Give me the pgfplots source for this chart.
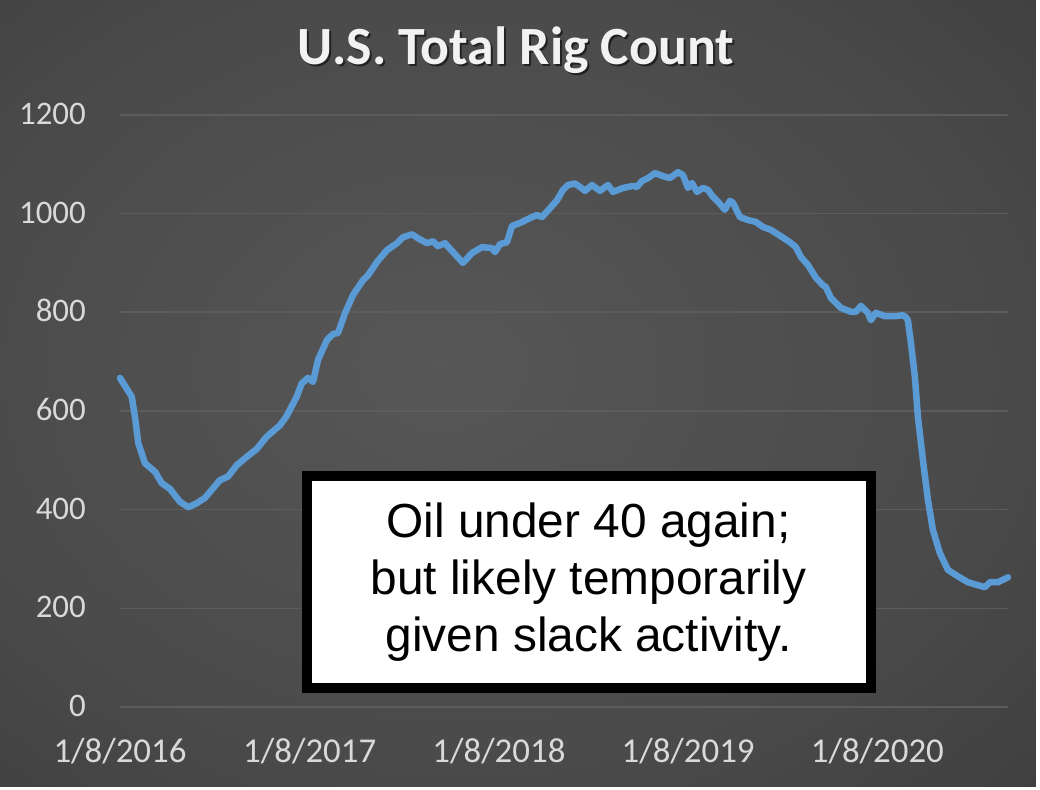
\documentclass[border=0pt]{standalone}
\usepackage{pgfplots}
\pgfplotsset{compat=1.18}
\usepackage{fontspec}
\setmainfont{Carlito}
\newfontfamily\arialfont{Liberation Sans}

\definecolor{rigblue}{RGB}{91,155,213}
\definecolor{gridc}{RGB}{92,92,92}
\definecolor{labc}{RGB}{217,217,217}
\definecolor{titc}{RGB}{242,242,242}
\pgfdeclareradialshading{bgshade}{\pgfpoint{-4bp}{2bp}}{rgb(0bp)=(0.34,0.34,0.34); rgb(25bp)=(0.29,0.29,0.29); rgb(50bp)=(0.21,0.21,0.21); rgb(75bp)=(0.17,0.17,0.17)}

% weekly rig count, x = days since 1/8/2016
\pgfplotstableread{
d v
0 667
22.6 629
28.9 588
35.3 535
48.2 494
67.5 477
80.4 454
96.5 442
115.7 416
131.8 405
148.0 413
164.0 424
192.9 460
208.3 467
225.1 490
244.4 507
263.7 523
283.0 548
308.6 571
321.6 590
340.9 629
350.5 656
362.7 667
372.3 659
381.9 703
399.3 744
410.9 756
420.5 758
434.0 798
449.5 835
468.7 865
478.4 875
495.8 902
515.0 926
534.3 940
545.9 952
563.3 958
574.8 950
592.2 940
603.8 944
613.4 934
626.9 940
642.4 922
661.6 900
679.0 920
698.3 932
717.6 930
723.4 922
733.0 938
746.5 942
756.2 975
771.6 981
790.9 991
804.4 997
814.0 993
829.5 1011
843.0 1027
854.5 1048
864.2 1058
877.7 1061
887.3 1054
897.0 1046
910.5 1058
925.9 1046
941.3 1058
951.0 1044
970.3 1052
989.6 1056
997.3 1054
1006.9 1066
1018.5 1072
1032.0 1082
1047.4 1076
1060.9 1072
1076.4 1084
1086.0 1078
1095.7 1052
1103.4 1062
1113.0 1044
1124.6 1052
1134.2 1048
1143.9 1034
1153.5 1024
1166.9 1008
1176.6 1026
1182.4 1022
1195.8 993
1211.3 987
1226.7 983
1240.2 973
1255.6 967
1274.9 954
1292.3 942
1303.9 932
1313.5 912
1327.0 896
1342.4 870
1355.9 855
1361.7 851
1371.4 829
1390.7 809
1410.0 801
1419.6 801
1429.2 813
1442.7 799
1448.5 784
1458.2 799
1475.5 792
1494.8 792
1510.2 794
1516.0 790
1519.9 784
1525.7 738
1533.4 669
1539.2 588
1548.8 501
1558.5 420
1568.1 359
1581.6 312
1597.1 278
1616.4 265
1635.7 253
1654.9 247
1668.4 243
1678.1 253
1693.5 253
1713.0 263
}\rigdata

\begin{document}
\begin{tikzpicture}
\path[use as bounding box] (0,0) rectangle (1040bp,790bp);
\shade[shading=bgshade] (0,0) rectangle (1040bp,790bp);
\fill[white] (1036bp,0) rectangle (1040bp,790bp);
\fill[white] (0,0) rectangle (1040bp,3bp);

\node[anchor=base, text=black, opacity=0.55, font=\bfseries\fontsize{54}{58}\selectfont] at (518bp,723.5bp) {U.S. Total Rig Count};
\node[anchor=base, text=titc, font=\bfseries\fontsize{54}{58}\selectfont] at (516bp,725.5bp) {U.S. Total Rig Count};

\begin{axis}[
  at={(120bp,82.9bp)}, anchor=south west,
  scale only axis, width=888bp, height=592.2bp,
  xmin=0, xmax=1713, ymin=0, ymax=1200,
  clip=false,
  axis line style={draw=none},
  major tick length=0pt,
  ytick={0,200,...,1200},
  xtick={0,366,731,1096,1461},
  xticklabels={1/8/2016,1/8/2017,1/8/2018,1/8/2019,1/8/2020},
  ymajorgrids,
  grid style={gridc, line width=1.6bp},
  /pgf/number format/assume math mode=true,
  /pgf/number format/1000 sep={},
  ticklabel style={text=labc, inner sep=0pt},
  yticklabel style={font=\fontsize{33}{36}\selectfont, anchor=base east, xshift=-34bp, yshift=-9.5bp},
  xticklabel style={font=\fontsize{35}{38}\selectfont, anchor=base, yshift=-55bp},
]
\addplot[rigblue, line width=6.5bp, line join=round, line cap=round] table[x=d, y=v] {\rigdata};
\end{axis}

\node[draw=black, line width=10bp, fill=white, minimum width=564bp, minimum height=212bp,
      align=center, inner sep=0pt,
      font=\arialfont\fontsize{48}{57}\selectfont] at (588.5bp,208bp)
  {Oil under 40 again;\\but likely temporarily\\given slack activity.};
\end{tikzpicture}
\end{document}
